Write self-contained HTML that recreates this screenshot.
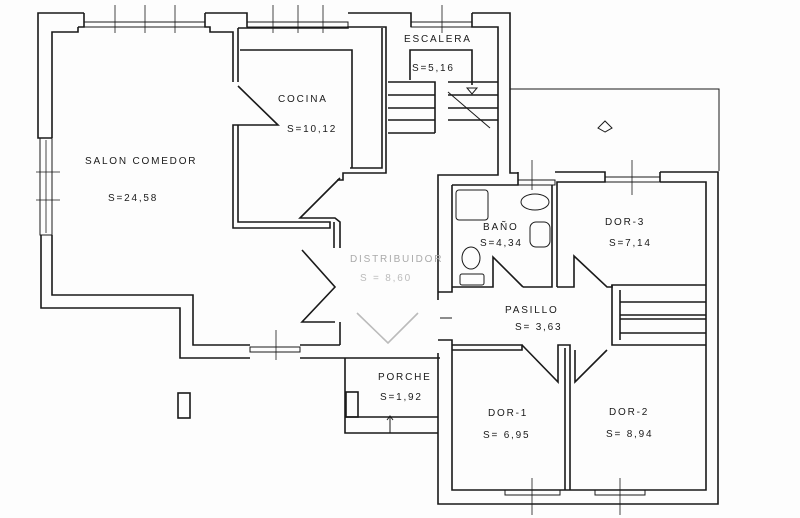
<!DOCTYPE html>
<html><head><meta charset="utf-8"><style>
html,body{margin:0;padding:0;background:#fff;}
svg{display:block}
text{font-family:"Liberation Sans",sans-serif;font-size:10px;letter-spacing:1.8px;fill:#1a1a1a}
</style></head><body>
<svg width="800" height="518" viewBox="0 0 800 518" xmlns="http://www.w3.org/2000/svg">
<rect width="800" height="518" fill="#fdfdfd"/>
<g fill="none" stroke="#1a1a1a" stroke-width="1.6">
<!-- Salon outer -->
<polyline points="84,13 38,13 38,138 52,138"/>
<polyline points="41,235 41,308 180,308 180,358 250,358"/>
<polyline points="300,358 440,358"/>
<!-- salon inner -->
<polyline points="78,27 78,32 52,32 52,138"/>
<polyline points="52,235 52,295 193,295 193,345 250,345"/>
<polyline points="300,345 340,345"/>
<rect x="250" y="347" width="50" height="5" stroke-width="1"/>
<!-- windows left -->
<rect x="40" y="138" width="12" height="97" stroke-width="1"/>
<line x1="46" y1="140" x2="46" y2="233" stroke-width="0.8"/>
<line x1="36" y1="172" x2="60" y2="172" stroke-width="0.8"/>
<line x1="36" y1="200" x2="60" y2="200" stroke-width="0.8"/>
<!-- window ticks -->
<g stroke-width="0.8">
<line x1="115" y1="5" x2="115" y2="33"/><line x1="145" y1="5" x2="145" y2="33"/><line x1="175" y1="5" x2="175" y2="33"/>
<line x1="273" y1="5" x2="273" y2="33"/><line x1="298" y1="5" x2="298" y2="33"/><line x1="323" y1="5" x2="323" y2="33"/>
<line x1="442" y1="5" x2="442" y2="33"/>
<line x1="532" y1="160" x2="532" y2="190"/><line x1="632" y1="160" x2="632" y2="195"/>
<line x1="532" y1="478" x2="532" y2="515"/><line x1="620" y1="478" x2="620" y2="515"/>
<line x1="276" y1="330" x2="276" y2="360"/>
</g>
<!-- top walls -->
<polyline points="84,13 84,27 78,27"/>
<rect x="84" y="22" width="121" height="5" stroke-width="1"/>
<polyline points="205,13 247,13 247,27"/>
<polyline points="205,13 205,27 210,27 210,32 233,32 233,82"/>
<rect x="247" y="22" width="101" height="5" stroke-width="1"/>
<polyline points="348,13 411,13 411,27"/>
<rect x="411" y="22" width="61" height="5" stroke-width="1"/>
<polyline points="472,13 510,13 510,173 518,173"/>
<polyline points="472,13 472,27 498,27 498,175 438,175 438,300"/>
<!-- cocina -->
<polyline points="238,28 238,82"/>
<polyline points="238,28 348,28 348,27 386,27 386,173 343,173 343,180 337,180"/>
<polyline points="382,28 382,168 350,168"/>
<polyline points="240,50 352,50 352,168"/>
<polyline points="238,86 278,125 238,125 233,125 233,228 330,228 330,222 300,222 238,222 238,125"/>
<polyline points="340,178 300,218 335,218 340,222 340,248"/>
<polyline points="334,222 334,248"/>
<!-- distribuidor zigzag -->
<polyline points="302,250 335,287 302,322 335,322"/>
<line x1="340" y1="322" x2="340" y2="345"/>
<polyline points="357,313 388,343 418,313" stroke="#bbb"/>
<!-- escalera -->
<polyline points="388,82 435,82 435,133"/>
<line x1="388" y1="95" x2="435" y2="95"/>
<line x1="388" y1="108" x2="435" y2="108"/>
<line x1="388" y1="120" x2="435" y2="120"/>
<line x1="388" y1="133" x2="435" y2="133"/>
<polyline points="410,80 410,50 472,50 472,85"/>
<polyline points="448,82 498,82"/>
<line x1="448" y1="95" x2="498" y2="95"/>
<line x1="448" y1="108" x2="498" y2="108"/>
<line x1="448" y1="120" x2="498" y2="120"/>
<line x1="448" y1="92" x2="490" y2="128" stroke-width="1"/>
<polygon points="467,88 477,88 472,94" stroke-width="1"/>
<!-- top-right rect -->
<polyline points="510,89 719,89 719,171" stroke-width="1"/>
<polygon points="605,132 598,128 605,121 612,128" stroke-width="1"/>
<!-- right block -->
<polyline points="438,353 438,504 718,504 718,172 660,172"/>
<polyline points="452,185 452,292 438,292"/>
<polyline points="452,345 452,490 706,490 706,182 660,182"/>
<rect x="518" y="180" width="37" height="5" stroke-width="1"/>
<polyline points="518,172 518,185 452,185"/>
<polyline points="555,172 605,172 605,182 557,182 557,287"/>
<rect x="605" y="177" width="55" height="5" stroke-width="1"/>
<polyline points="660,172 660,182"/>
<polyline points="552,185 552,287 523,287"/>
<polyline points="452,287 493,287 493,257 523,287"/>
<polyline points="557,287 574,287 574,256 607,287 612,287 612,285 706,285"/>
<polyline points="438,340 452,340 452,345"/>
<line x1="440" y1="318" x2="452" y2="318" stroke-width="1"/>
<!-- pasillo right stairs -->
<polyline points="612,285 612,345 706,345"/>
<line x1="620" y1="290" x2="620" y2="340"/>
<line x1="620" y1="302" x2="706" y2="302"/>
<line x1="620" y1="315" x2="706" y2="315"/>
<line x1="620" y1="319" x2="706" y2="319"/>
<line x1="620" y1="333" x2="706" y2="333"/>
<!-- lower pasillo -->
<polyline points="452,345 522,345 522,350 452,350"/>
<polyline points="522,345 558,382 558,345 570,345 570,490"/>
<polyline points="565,348 565,490"/>
<polyline points="575,350 575,382 607,350"/>
<!-- bottom windows -->
<rect x="505" y="490" width="55" height="5" stroke-width="1"/>
<rect x="595" y="490" width="50" height="5" stroke-width="1"/>
<!-- porche -->
<polyline points="345,358 345,433 438,433"/>
<line x1="345" y1="417" x2="438" y2="417"/>
<rect x="346" y="392" width="12" height="25"/>
<line x1="390" y1="417" x2="390" y2="433" stroke-width="1"/>
<polyline points="387,420 390,416 393,420" stroke-width="1"/>
<rect x="178" y="393" width="12" height="25"/>
<!-- bath fixtures -->
<rect x="456" y="190" width="32" height="30" rx="3" stroke-width="1"/>
<ellipse cx="535" cy="202" rx="14" ry="8" stroke-width="1"/>
<rect x="530" y="222" width="20" height="25" rx="6" stroke-width="1"/>
<ellipse cx="471" cy="258" rx="9" ry="11" stroke-width="1"/>
<rect x="460" y="274" width="24" height="11" rx="2" stroke-width="1"/>
</g>
<text x="85" y="164">SALON COMEDOR</text>
<text x="108" y="201">S=24,58</text>
<text x="278" y="102">COCINA</text>
<text x="287" y="132">S=10,12</text>
<text x="404" y="42">ESCALERA</text>
<text x="412" y="71">S=5,16</text>
<text x="483" y="230">BAÑO</text>
<text x="480" y="246">S=4,34</text>
<text x="350" y="262" style="fill:#aaa">DISTRIBUIDOR</text>
<text x="360" y="281" style="fill:#bbb">S = 8,60</text>
<text x="605" y="225">DOR-3</text>
<text x="609" y="246">S=7,14</text>
<text x="505" y="313">PASILLO</text>
<text x="515" y="330">S= 3,63</text>
<text x="378" y="380">PORCHE</text>
<text x="380" y="400">S=1,92</text>
<text x="488" y="416">DOR-1</text>
<text x="483" y="438">S= 6,95</text>
<text x="609" y="415">DOR-2</text>
<text x="606" y="437">S= 8,94</text>
</svg>
</body></html>
